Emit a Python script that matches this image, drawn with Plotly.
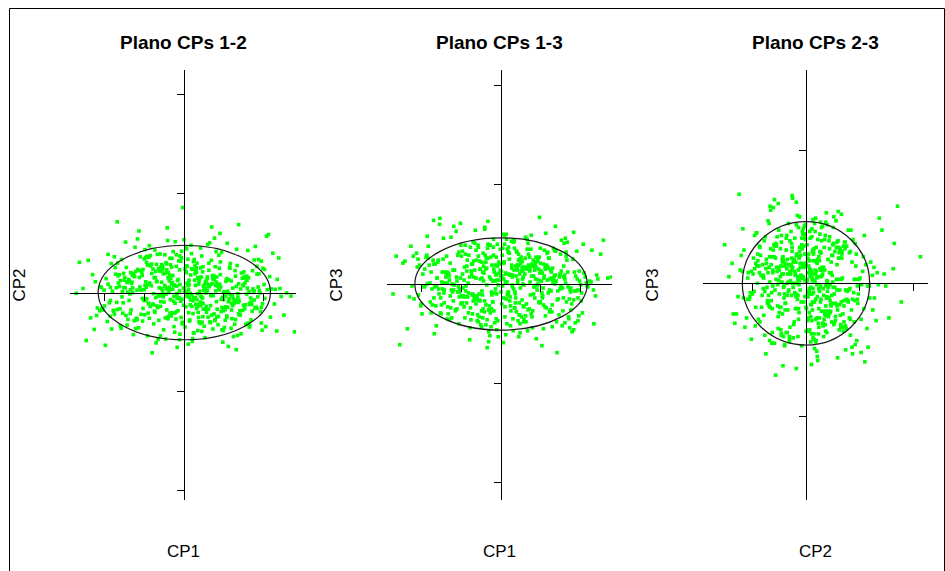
import plotly.graph_objects as go

# ---------------- data (principal component scores) ----------------
cp1 = [
 0.12, -1.34, 0.87, -0.45, 1.76, -0.08, 0.53, -1.92, 1.21, -0.67, 0.31, 2.05, -1.12, 0.74, -0.23,
 -0.91, 1.48, 0.06, -1.57, 0.95, -0.34, 1.63, -0.78, 0.41, -2.21, 1.05, -0.15, 0.68, -1.26, 1.89,
 0.27, -0.59, 1.34, -1.71, 0.02, 0.83, -0.97, 1.57, -0.41, 2.34, -1.48, 0.19, -0.72, 1.14, -0.05,
 1.42, -1.09, 0.58, -0.28, 1.97, -1.83, 0.36, -0.63, 1.28, -2.47, 0.91, -0.19, 1.71, -1.38, 0.47,
 -0.84, 0.15, 1.09, -1.64, 0.64, -0.38, 2.12, -1.02, 0.22, 1.53, -0.54, -1.99, 0.79, 1.36, -0.11,
 0.96, -1.22, 1.68, -0.49, 0.09, -2.08, 1.17, -0.76, 0.44, 1.83, -1.43, 0.29, -0.88, 2.51, -0.31,
 -1.61, 0.71, -0.02, 1.26, -1.17, 0.52, -0.69, 1.94, -1.79, 0.33, 1.07, -0.43, -2.36, 0.88, 1.49,
 0.18, -0.95, 1.61, -1.31, 0.61, -0.21, 2.23, -1.54, 0.39, 1.01, -0.82, 0.07, -1.68, 1.31, -0.57,
 1.78, -0.36, 0.49, -1.87, 1.12, -0.13, 0.76, -1.05, 2.01, -0.62, 0.24, -1.39, 1.58, -0.93, 0.11,
 -0.27, 1.22, -1.76, 0.85, -0.52, 1.44, -2.13, 0.57, -0.04, 1.69, -1.19, 0.35, 2.41, -0.71, -1.46,
 0.67, -0.17, 1.39, -0.99, 0.04, 1.86, -1.59, 0.46, -0.39, 1.03, -2.64, 0.93, -0.64, 1.52, -1.14,
 0.38, 1.15, -0.47, -1.35, 0.72, 2.17, -0.86, 0.13, -1.73, 1.27, -0.25, 0.59, -1.04, 1.91, -0.55,
 -1.94, 0.81, 0.25, -0.74, 1.59, -1.28, 0.43, -0.09, 1.33, -2.01, 0.69, 1.74, -0.33, -1.51, 0.98,
 0.05, -1.06, 1.47, -0.61, 2.29, -1.42, 0.34, -0.18, 0.89, -1.84, 1.19, -0.46, 0.62, 1.65, -0.96,
 -0.42, 1.37, -1.66, 0.16, 0.78, -2.27, 1.02, -0.53, 1.81, -0.07, -1.21, 0.48, 2.69, -0.81, 0.23,
 1.11, -0.29, -1.49, 0.66, -0.89, 1.54, 0.08, -1.97, 1.24, -0.65, 0.37, 1.92, -1.24, -0.14, 0.82,
 -0.73, 1.64, -0.35, 0.51, -1.62, 2.07, -0.98, 0.28, 1.41, -2.42, 0.73, -0.24, 1.18, -1.11, 0.55,
 1.85, -0.60, 0.14, -1.33, 0.94, -0.44, 1.73, -1.89, 0.32, -0.12, 1.29, -0.77, 2.38, -1.55, 0.63,
 -0.20, 0.99, -1.44, 1.56, -0.66, 0.21, -2.19, 1.08, 0.45, -0.92, 1.67, -1.07, 0.10, 2.09, -0.37,
 -1.78, 0.54, 1.32, -0.51, 0.86, -1.25, 0.01, 1.96, -0.85, 0.42, -1.69, 1.13, -0.30, 0.77, -2.55,
 1.50, -0.11, 0.65, -1.01, 2.27, -0.58, 0.30, -1.36, 1.06, -0.26, 1.79, -1.81, 0.56, -0.70, 1.38,
 -0.48, 0.92, -1.53, 0.20, 1.62, -0.94, 2.44, -0.16, 0.70, -1.18, 0.40, -2.02, 1.25, -0.79, 2.78,
 0.33, -0.87, 1.16, -1.47, 0.58, -0.06, 1.88, -1.15, 0.26, -0.68, 1.35, -2.05, 0.79, -0.32, 1.03,
 -1.27, 0.47, -0.19, 1.72, -0.93, 0.12, -1.58, 0.95, 2.19, -0.41, 0.64, -1.02, 1.46, -0.75, 0.03,
 1.23, -0.55, 0.37, -1.86, 0.82, -0.24, 1.60, -0.63, 0.15, -1.32, 2.33, -0.12, 0.53, -1.70, 0.90,
 -0.38, 1.07, -1.09, 0.44, 1.83, -0.83, 0.21, -2.31, 1.30, -0.46, 0.68, 1.55, -1.40, 0.06, -0.69,
 0.75, -1.52, 1.98, -0.27, 0.50, -1.13, 0.99, -0.01, 1.40, -1.92, 0.28, -0.57, 1.11, -0.97, 2.58,
 -0.14, 0.61, -1.63, 1.20, -0.48, 0.17, -0.90, 1.76, -1.23, 0.39, 2.02, -0.35, -1.76, 0.87, 0.00,
 1.66, -0.72, 0.23, -1.45, 1.04, -0.20, 0.56, -2.11, 1.37, -0.60, 0.11, 1.94, -1.06, 0.46, -0.31,
 -0.99, 0.34, 1.51, -0.53, 0.80, -1.69, 0.07, 1.29, -0.40, -2.72, 0.97, -0.09, 1.70, -1.30, 0.41,
 0.22, -0.41, 0.93, -1.19, 0.47, -0.02, 1.31, -0.77, 0.16, -1.56, 0.69, 1.87, -0.26, 0.54, -0.88,
 -0.63, 1.04, 0.29, -1.37, 0.13, 1.58, -0.49, 0.81, -1.01, 0.35, 2.15, -0.18, 0.72, -1.74, 0.09,
 1.19, -0.31, 0.42, -0.95, 1.64, -0.12, 0.60, -1.28, 0.04, 0.97, -0.70, 1.43, -2.09, 0.31, -0.44,
 -0.15, 0.78, -0.57, 1.27, -1.11, 0.19, 1.83, -0.36, 0.51, -0.82, 0.02, 1.12, -1.50, 0.66, -0.23,
 0.44, -1.04, 1.52, 0.10, -0.66, 0.85, -1.86, 0.27, 1.07, -0.29, 0.58, -0.90, 1.76, -0.05, -1.30,
 0.91, -0.19, 0.36, -1.61, 1.22, -0.52, 0.05, 2.03, -0.74, 0.48, -0.11, 1.35, -1.20, 0.73, -0.38,
 -0.86, 0.62, 1.09, -0.33, -1.43, 0.24, 0.88, -0.60, 1.49, -0.07, 0.41, -1.67, 0.99, -0.45, 1.61,
 0.07, -0.79, 1.37, -0.21, 0.55, -1.35, 1.94, -0.48, 0.18, -1.00, 0.76, 0.32, -0.55, 1.18, -2.24,
]
cp2 = [
 0.31, -0.44, 0.08, 0.72, -0.19, -0.63, 0.25, 0.96, -0.07, -0.38, 0.51, -0.86, 0.14, 0.43, -0.27,
 -0.52, 0.19, 0.67, -0.11, -0.94, 0.36, 0.02, -0.31, 1.12, -0.58, 0.28, -0.15, 0.81, -0.71, 0.05,
 0.47, -0.23, -1.08, 0.12, 0.59, -0.42, 0.88, -0.04, -0.66, 0.33, 1.27, -0.35, -0.13, 0.64, -0.79,
 0.09, -0.55, 0.39, 1.03, -0.28, -0.92, 0.21, -0.09, 0.55, -1.21, 0.77, 0.16, -0.47, 0.29, -0.61,
 0.71, -0.02, -0.37, 0.45, -0.74, 0.13, 1.46, -0.18, -0.53, 0.24, 0.62, -1.33, 0.04, -0.25, 0.92,
 -0.12, 0.53, -0.69, 0.18, 0.84, -0.41, -0.06, 0.37, -0.98, 0.66, 0.01, -0.30, 1.18, -0.57, 0.22,
 -0.84, 0.42, 0.11, -0.21, 0.58, -1.14, 0.27, 0.79, -0.45, -0.03, 0.35, 1.63, -0.64, 0.07, -0.32,
 0.60, -0.16, -0.77, 0.44, 0.15, -0.49, 0.99, -0.26, 0.03, -0.88, 0.48, -0.10, 0.74, -1.44, 0.26,
 -0.39, 0.86, 0.06, -0.60, 0.32, -0.14, 1.37, -0.72, 0.20, 0.54, -1.02, -0.20, 0.41, 0.69, -0.51,
 0.17, -0.33, 0.90, -0.81, -0.05, 0.49, -0.46, 0.23, 2.14, -0.24, -0.67, 0.38, 0.10, -1.27, 0.63,
 -0.08, 0.30, -0.56, 1.08, -0.36, 0.14, -0.90, 0.52, 0.00, -0.43, 0.76, -0.17, -0.70, 0.40, 1.55,
 -0.29, 0.61, -1.17, 0.07, 0.34, -0.62, 0.93, -0.12, 0.46, -0.80, 0.19, 1.21, -0.40, -0.01, 0.57,
 -0.73, 0.26, 0.83, -0.50, 0.11, -1.06, 0.39, -0.22, 0.68, -0.34, 1.65, 0.04, -0.59, 0.31, -0.96,
 0.50, -0.15, -0.45, 0.97, 0.08, -0.68, 0.36, -1.38, 0.21, 0.73, -0.27, -0.04, 0.56, -0.83, 0.13,
 1.31, -0.54, 0.24, -0.19, 0.65, -0.93, 0.02, 0.47, -0.37, 1.04, -0.65, 0.16, -0.09, -1.52, 0.78,
 -0.23, 0.43, 0.12, -0.76, 0.89, -0.31, -0.02, 0.35, -1.11, 0.60, 0.27, -0.48, 1.14, -0.13, -0.62,
 0.38, -0.87, 0.70, 0.05, -0.41, 1.42, -0.20, 0.18, -0.57, 0.81, -0.08, -1.00, 0.29, 0.55, -0.35,
 -0.11, 0.63, -0.69, 0.23, 1.01, -0.44, 0.09, -0.26, 0.74, -1.19, 0.41, -0.03, 0.87, -0.52, 0.15,
 0.95, -0.18, -0.82, 0.34, -0.06, 0.58, -0.39, 1.24, -0.75, 0.20, -0.14, 0.51, -1.30, 0.07, 0.44,
 -0.47, 0.28, 1.09, -0.24, -0.60, 0.40, 0.01, -0.95, 0.67, -0.33, 1.78, -0.16, 0.25, -0.71, 0.10,
 0.52, -1.05, 0.19, 0.85, -0.29, -0.07, 0.62, -0.53, 0.32, -0.86, 1.16, 0.03, -0.42, 0.71, -0.21,
 -0.64, 0.14, 0.48, -1.23, 0.37, 0.91, -0.10, -0.46, 0.22, 1.35, -0.78, 0.06, -0.28, 0.59, -0.99,
 -0.36, 0.24, 0.73, -0.58, 0.05, -0.17, 0.47, -0.89, 0.31, 0.96, -0.12, -0.44, 0.18, 0.64, -0.70,
 0.42, -0.27, -0.03, 0.55, -1.09, 0.20, 0.83, -0.38, 0.09, -0.61, 1.25, -0.20, 0.36, -0.47, 0.02,
 -0.15, 0.68, -0.74, 0.13, 0.39, -0.52, 1.06, -0.08, -0.31, 0.26, -0.97, 0.57, 0.10, -0.25, 1.49,
 0.29, -0.63, 0.06, 0.92, -0.40, 0.17, -1.16, 0.45, -0.19, 0.75, -0.05, -0.80, 0.33, 1.10, -0.34,
 -0.54, 0.12, 0.61, -0.22, -0.85, 0.38, 0.00, 1.33, -0.46, 0.21, -0.13, 0.70, -1.36, 0.27, -0.01,
 0.80, -0.42, 0.15, -0.66, 0.49, 1.19, -0.28, 0.04, -0.91, 0.35, 0.58, -0.18, -0.55, 0.94, 0.11,
 -0.26, 0.53, -1.02, 0.27, -0.09, 0.66, -0.50, 0.14, 1.71, -0.35, 0.08, -0.77, 0.43, -0.14, 0.86,
 0.18, -0.96, 0.37, -0.11, 1.03, -0.43, 0.23, -0.68, 0.50, -0.02, -1.25, 0.79, -0.30, 0.12, 0.62,
 -0.21, 0.37, -0.48, 0.06, 0.65, -0.32, 0.15, -0.79, 0.44, 0.02, -0.57, 0.83, -0.10, 0.28, -0.65,
 0.12, -0.36, 0.54, -0.04, -0.72, 0.31, 0.95, -0.23, 0.07, -0.50, 0.40, -0.14, -0.92, 0.63, 0.18,
 -0.44, 0.21, -0.09, 0.76, -0.30, 0.04, -0.62, 0.48, 1.15, -0.17, 0.29, -1.04, 0.13, -0.40, 0.57,
 0.33, -0.68, 0.10, -0.25, 0.90, -0.06, 0.46, -0.53, 0.19, 0.71, -0.87, -0.02, 0.38, -0.33, 1.28,
 -0.12, 0.58, -0.41, 0.24, -1.18, 0.16, -0.20, 0.67, -0.59, 0.08, 0.35, -0.27, 0.82, -0.75, 0.00,
 0.45, -0.08, -0.63, 0.30, 0.11, -0.94, 0.52, -0.15, 1.07, -0.42, 0.20, -0.03, -0.69, 0.39, 0.05,
 -0.35, 0.74, 0.03, -0.51, 0.25, -0.13, 0.61, -1.09, 0.17, 0.87, -0.24, 0.42, -0.46, 0.09, -0.81,
 0.66, -0.29, 0.22, -0.67, -0.01, 0.50, -0.37, 0.14, 0.98, -0.56, 0.32, -0.18, 0.04, -0.90, 0.27,
]
cp3 = [
 0.11, -0.23, 0.05, 0.31, -0.08, -0.37, 0.17, -0.02, 0.26, -0.15, 0.42, -0.29, 0.07, -0.11, 0.19,
 -0.34, 0.09, 0.22, -0.05, -0.18, 0.36, 0.01, -0.44, 0.14, 0.28, -0.12, 0.03, -0.26, 0.47, -0.07,
 0.16, -0.31, 0.08, 0.24, -0.20, -0.03, 0.33, -0.14, 0.55, -0.40, 0.12, -0.09, 0.20, -0.24, 0.04,
 -0.16, 0.29, -0.01, -0.52, 0.13, 0.38, -0.10, 0.06, -0.28, 0.21, -0.06, 0.45, -0.35, 0.10, 0.25,
 -0.13, 0.02, 0.34, -0.22, 0.15, -0.41, 0.07, 0.61, -0.17, -0.04, 0.23, -0.30, 0.18, 0.00, -0.46,
 0.27, -0.08, 0.12, -0.27, 0.40, -0.11, 0.04, -0.36, 0.19, 0.52, -0.19, 0.09, -0.02, 0.30, -0.58,
 0.06, -0.25, 0.35, -0.07, 0.14, -0.33, 0.23, -0.14, 0.01, 0.43, -0.21, 0.11, -0.45, 0.17, -0.05,
 0.32, -0.12, -0.39, 0.08, 0.26, -0.18, 0.03, 0.66, -0.28, 0.13, -0.09, 0.21, -0.50, 0.05, 0.37,
 -0.20, 0.16, -0.04, 0.29, -0.32, 0.10, 0.49, -0.13, -0.01, 0.24, -0.42, 0.07, 0.18, -0.23, 0.02,
 0.39, -0.06, -0.29, 0.14, 0.05, -0.15, 0.31, -0.38, 0.20, -0.03, 0.58, -0.24, 0.09, -0.10, 0.25,
 -0.47, 0.12, 0.03, -0.19, 0.36, -0.07, 0.22, -0.31, 0.15, -0.62, 0.28, 0.00, -0.14, 0.44, -0.26,
 0.08, 0.19, -0.11, -0.35, 0.27, -0.02, 0.13, 0.50, -0.21, 0.06, -0.43, 0.16, -0.08, 0.33, -0.16,
 -0.03, 0.24, -0.27, 0.10, 0.41, -0.12, -0.37, 0.18, 0.04, -0.20, 0.30, -0.06, 0.63, -0.30, 0.11,
 0.21, -0.40, 0.07, -0.15, 0.34, 0.01, -0.24, 0.15, -0.55, 0.26, -0.09, 0.12, 0.47, -0.18, -0.04,
 -0.28, 0.09, 0.20, -0.10, -0.33, 0.38, 0.03, -0.17, 0.25, -0.01, 0.14, -0.49, 0.06, 0.29, -0.13,
 0.17, -0.22, 0.02, 0.35, -0.07, -0.42, 0.22, 0.10, -0.26, 0.54, -0.14, 0.05, -0.34, 0.19, 0.08,
 -0.11, 0.28, -0.36, 0.13, -0.02, 0.40, -0.19, 0.07, -0.69, 0.23, 0.15, -0.08, 0.32, -0.25, 0.00,
 0.12, -0.16, 0.45, -0.30, 0.04, 0.18, -0.44, 0.27, -0.05, 0.09, -0.21, 0.37, -0.12, 0.60, -0.38,
 0.03, 0.21, -0.09, -0.27, 0.14, 0.31, -0.15, 0.06, -0.53, 0.17, 0.42, -0.03, -0.23, 0.11, 0.26,
 -0.18, 0.05, 0.36, -0.41, 0.20, -0.06, 0.13, -0.32, 0.24, 0.01, -0.14, 0.51, -0.26, 0.08, -0.61,
 0.30, -0.10, 0.16, -0.20, 0.02, 0.39, -0.35, 0.12, -0.04, 0.27, -0.48, 0.19, 0.07, -0.17, 0.34,
 -0.07, 0.23, -0.29, 0.10, 0.46, -0.13, 0.05, -0.39, 0.18, -0.01, 0.32, -0.22, 0.14, -0.56, 0.07,
 0.14, -0.19, 0.31, -0.05, -0.36, 0.22, 0.08, -0.27, 0.43, -0.12, 0.02, 0.19, -0.44, 0.26, -0.09,
 -0.24, 0.10, 0.37, -0.15, 0.04, -0.51, 0.24, 0.15, -0.03, 0.57, -0.20, 0.06, -0.31, 0.13, 0.29,
 0.05, -0.33, 0.18, 0.48, -0.10, -0.25, 0.09, 0.34, -0.40, 0.11, -0.06, 0.27, -0.16, 0.64, -0.02,
 -0.21, 0.20, -0.08, 0.30, -0.46, 0.01, 0.25, -0.13, 0.16, -0.34, 0.41, -0.04, 0.12, -0.59, 0.07,
 0.35, -0.14, 0.03, -0.29, 0.21, 0.53, -0.18, 0.08, -0.38, 0.15, -0.01, 0.28, -0.23, 0.10, 0.44,
 -0.05, 0.17, -0.42, 0.26, 0.06, -0.11, 0.39, -0.26, 0.00, 0.33, -0.17, -0.64, 0.12, 0.22, -0.08,
 0.24, -0.30, 0.09, 0.46, -0.14, 0.03, -0.22, 0.17, 0.58, -0.37, 0.10, -0.06, 0.32, -0.19, -0.48,
 -0.12, 0.36, -0.02, 0.15, -0.27, 0.20, 0.05, -0.43, 0.29, -0.10, 0.67, 0.40, -0.33, 0.04, 0.19,
 0.09, -0.17, 0.26, -0.06, -0.31, 0.14, 0.02, -0.24, 0.35, -0.10, 0.19, -0.39, 0.05, 0.23, -0.13,
 -0.20, 0.11, -0.03, 0.28, -0.15, 0.07, -0.43, 0.18, 0.39, -0.08, 0.01, -0.27, 0.13, -0.05, 0.49,
 0.16, -0.26, 0.04, -0.12, 0.32, -0.35, 0.10, 0.21, -0.02, -0.19, 0.42, -0.07, 0.25, -0.47, 0.03,
 -0.09, 0.20, -0.38, 0.12, 0.03, 0.37, -0.16, -0.01, 0.27, -0.29, 0.08, 0.15, -0.21, 0.45, -0.11,
 0.24, -0.05, 0.13, -0.33, 0.41, -0.14, 0.00, 0.19, -0.45, 0.07, -0.23, 0.30, -0.04, 0.11, -0.36,
 -0.01, 0.29, -0.19, 0.06, -0.28, 0.15, 0.50, -0.09, 0.20, -0.40, 0.04, 0.34, -0.17, 0.02, 0.22,
 0.18, -0.32, 0.08, 0.40, -0.06, -0.22, 0.27, -0.12, 0.10, -0.53, 0.16, -0.03, 0.36, -0.25, 0.05,
 -0.14, 0.07, 0.33, -0.18, 0.13, 0.01, -0.37, 0.22, -0.08, 0.28, -0.30, 0.44, -0.10, 0.17, -0.02,
]
scores = {"CP1": cp1, "CP2": cp2, "CP3": cp3}
# semi-axes of the reference ellipse for each component
ellipse_radius = {"CP1": 2.17, "CP2": 1.19, "CP3": 0.464}

titles = ["Plano CPs 1-2", "Plano CPs 1-3", "Plano CPs 2-3"]
pairs = [("CP1", "CP2"), ("CP1", "CP3"), ("CP2", "CP3")]
x_ticks = [[-2, -1, 1, 2], [-2, -1, 1, 2], [-1, 1, 2]]
y_ticks = [[-5, -2.5, 2.5, 5], [-2, -1, 1, 2], [-1, 1]]

# ---------------- layout geometry ----------------
W, H = 945, 571
x_ranges = [[-2.879, 2.814], [-2.872, 2.796], [-1.925, 2.280]]
y_ranges = [[-5.227, 5.605], [-2.171, 2.151], [-1.629, 1.604]]
x_dom_px = [(70, 296), (387, 612), (703, 928)]
y_dom_px = (70, 500)   # top, bottom in pixels

def fx(p):
    return p / W

def fy(p):
    return 1 - p / H

FONT = "Liberation Sans, Arial, Helvetica, sans-serif"
GREEN = "#00ff00"

fig = go.Figure()
layout = dict(
    width=W, height=H, margin=dict(l=0, r=0, t=0, b=0),
    paper_bgcolor="white", plot_bgcolor="rgba(0,0,0,0)",
    showlegend=False, font=dict(family=FONT, color="black"),
)
shapes = []
annotations = []

yd0, yd1 = fy(y_dom_px[1]), fy(y_dom_px[0])
for i, (cx, cy) in enumerate(pairs):
    n = "" if i == 0 else str(i + 1)
    xd0, xd1 = fx(x_dom_px[i][0]), fx(x_dom_px[i][1])
    xr, yr = x_ranges[i], y_ranges[i]
    # paper position of the zero lines
    ypos = yd0 + (0 - yr[0]) / (yr[1] - yr[0]) * (yd1 - yd0)
    xpos = xd0 + (0 - xr[0]) / (xr[1] - xr[0]) * (xd1 - xd0)

    fig.add_trace(go.Scatter(
        x=scores[cx], y=scores[cy], mode="markers",
        marker=dict(symbol="square", size=3.6, color=GREEN, line=dict(width=0)),
        xaxis="x" + n, yaxis="y" + n, hoverinfo="skip",
    ))

    common = dict(showgrid=False, zeroline=False, showline=True, linecolor="black",
                  linewidth=1, ticks="outside", ticklen=7, tickwidth=1, tickcolor="black",
                  showticklabels=False, fixedrange=True, anchor="free", layer="above traces")
    layout["xaxis" + n] = dict(common, domain=[xd0, xd1], range=xr, tickvals=x_ticks[i],
                               position=ypos)
    layout["yaxis" + n] = dict(common, domain=[yd0, yd1], range=yr, tickvals=y_ticks[i],
                               position=xpos)

    shapes.append(dict(type="circle", xref="x" + n, yref="y" + n,
                       x0=-ellipse_radius[cx], x1=ellipse_radius[cx],
                       y0=-ellipse_radius[cy], y1=ellipse_radius[cy],
                       line=dict(color="#1a1a1a", width=1.2), layer="above"))

    xc = (xd0 + xd1) / 2
    annotations.append(dict(text="<b>" + titles[i] + "</b>", xref="paper", yref="paper",
                            x=xc, y=fy(42), xanchor="center", yanchor="middle",
                            showarrow=False, font=dict(size=19, family=FONT, color="black")))
    annotations.append(dict(text=cx, xref="paper", yref="paper", x=xc, y=fy(551.5),
                            xanchor="center", yanchor="middle", showarrow=False,
                            font=dict(size=17, family=FONT, color="black")))
    annotations.append(dict(text=cy, xref="paper", yref="paper",
                            x=fx(x_dom_px[i][0] - 51), y=fy(285.5), textangle=-90,
                            xanchor="center", yanchor="middle", showarrow=False,
                            font=dict(size=17, family=FONT, color="black")))

# outer frame
shapes.append(dict(type="rect", xref="paper", yref="paper", x0=fx(9.5), x1=fx(944.5),
                   y0=-0.2, y1=fy(8.5), line=dict(color="black", width=1), layer="above"))

layout["shapes"] = shapes
layout["annotations"] = annotations
fig.update_layout(**layout)
fig.write_html("out.html")
